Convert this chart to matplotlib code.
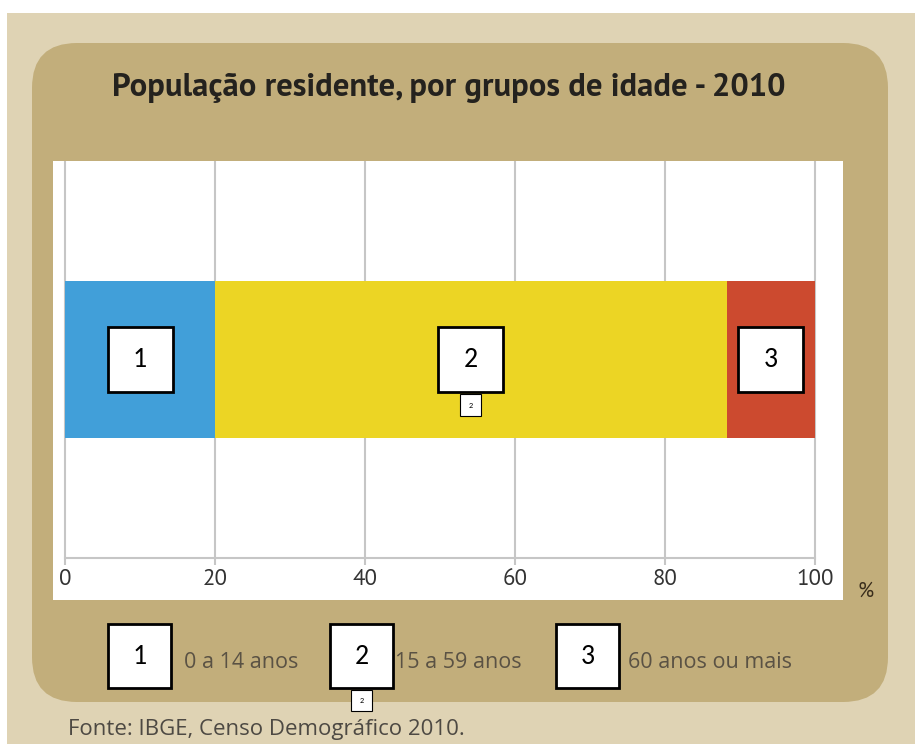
import matplotlib.pyplot as plt
from matplotlib.patches import Rectangle, FancyBboxPatch

# data
groups = ['1', '2', '3']
labels = ['0 a 14 anos', '15 a 59 anos', '60 anos ou mais']
shares = [20.0, 68.2, 11.8]
colors = ['#419fd9', '#ecd524', '#cc4a2f']
ticks = [0, 20, 40, 60, 80, 100]

W, H = 915, 744
TITLE = ['PT Sans', 'DejaVu Sans']
SANS = ['Open Sans', 'DejaVu Sans']
BOXFONT = ['Carlito', 'DejaVu Sans']

fig = plt.figure(figsize=(W / 100, H / 100), dpi=100, facecolor='white')

# background layer in pixel coordinates
bg = fig.add_axes([0, 0, 1, 1], zorder=0)
bg.set_xlim(0, W)
bg.set_ylim(H, 0)
bg.axis('off')
bg.add_patch(Rectangle((7, 13), W - 7, H - 13, fc='#dfd3b4', lw=0))
bg.add_patch(FancyBboxPatch((32, 43), 856, 659,
                            boxstyle='round,pad=0,rounding_size=45',
                            fc='#c2ae7b', lw=0))
bg.text(449, 88, 'População residente, por grupos de idade - 2010',
        ha='center', va='center', fontsize=23.5, fontweight='bold',
        family=TITLE, color='#24221e')
bg.text(866, 591, '%', ha='center', va='center', fontsize=15,
        family=TITLE, color='#3a2e1c')
bg.text(68, 730, 'Fonte: IBGE, Censo Demográfico 2010.', ha='left',
        va='center', fontsize=16, family=SANS, color='#4d4943')

# legend
box_x = [108, 330, 556]
text_x = [184, 395, 628]
for g, lab, bx, tx in zip(groups, labels, box_x, text_x):
    bg.add_patch(Rectangle((bx, 624), 63, 64, fc='white', ec='black', lw=2))
    bg.text(bx + 31.5, 656, g, ha='center', va='center', fontsize=20,
            family=BOXFONT, color='black')
    bg.text(tx, 662, lab, ha='left', va='center', fontsize=15.5,
            family=SANS, color='#5a5244')
bg.add_patch(Rectangle((351, 690), 21, 21, fc='white', ec='black', lw=0.8))
bg.text(361.5, 700.5, '2', ha='center', va='center', fontsize=6,
        family=BOXFONT, color='black')

# main chart
ax = fig.add_axes([53 / W, 144 / H, 790 / W, 439 / H], zorder=2)
ax.set_facecolor('white')
px_x = 7.5      # pixels per percent
px_y = 157.0    # pixels per bar height unit
ax.set_xlim(-12 / px_x, 100 + 28 / px_x)
ytop = 0.5 + 120 / px_y
ax.set_ylim(-0.5 - 162 / px_y, ytop)
yline = -0.5 - 120 / px_y

lefts = [sum(shares[:i]) for i in range(len(shares))]
ax.barh(0, shares, left=lefts, height=1, color=colors, zorder=2)
ax.vlines(ticks, yline, ytop, color='#c6c6c6', lw=1.5, zorder=1)

for sp in ['top', 'left', 'right']:
    ax.spines[sp].set_visible(False)
ax.spines['bottom'].set_position(('data', yline))
ax.spines['bottom'].set_bounds(0, 100)
ax.spines['bottom'].set_color('#c6c6c6')
ax.spines['bottom'].set_linewidth(1.5)
ax.set_yticks([])
ax.set_xticks(ticks)
ax.set_xticklabels([str(t) for t in ticks], family=TITLE, fontsize=16.5,
                   color='#333333')
ax.tick_params(axis='x', direction='out', length=5, width=1.5,
               color='#c6c6c6', pad=3)

# numbered boxes on the bar segments
bw, bh = 65 / px_x, 65 / px_y
for g, left, s in zip(groups, lefts, shares):
    c = left + s / 2
    ax.add_patch(Rectangle((c - bw / 2, -bh / 2), bw, bh, fc='white',
                           ec='black', lw=2, zorder=3))
    ax.text(c, 0, g, ha='center', va='center', fontsize=20,
            family=BOXFONT, color='black', zorder=4)
    if g == '2':
        sw, sh = 21 / px_x, 22 / px_y
        sy = -bh / 2 - 2 / px_y - sh
        ax.add_patch(Rectangle((c - sw / 2, sy), sw, sh, fc='white',
                               ec='black', lw=0.8, zorder=3))
        ax.text(c, sy + sh / 2, '2', ha='center', va='center',
                fontsize=6, family=BOXFONT, color='black', zorder=4)

fig.savefig('out.png', dpi=100, facecolor=fig.get_facecolor())
